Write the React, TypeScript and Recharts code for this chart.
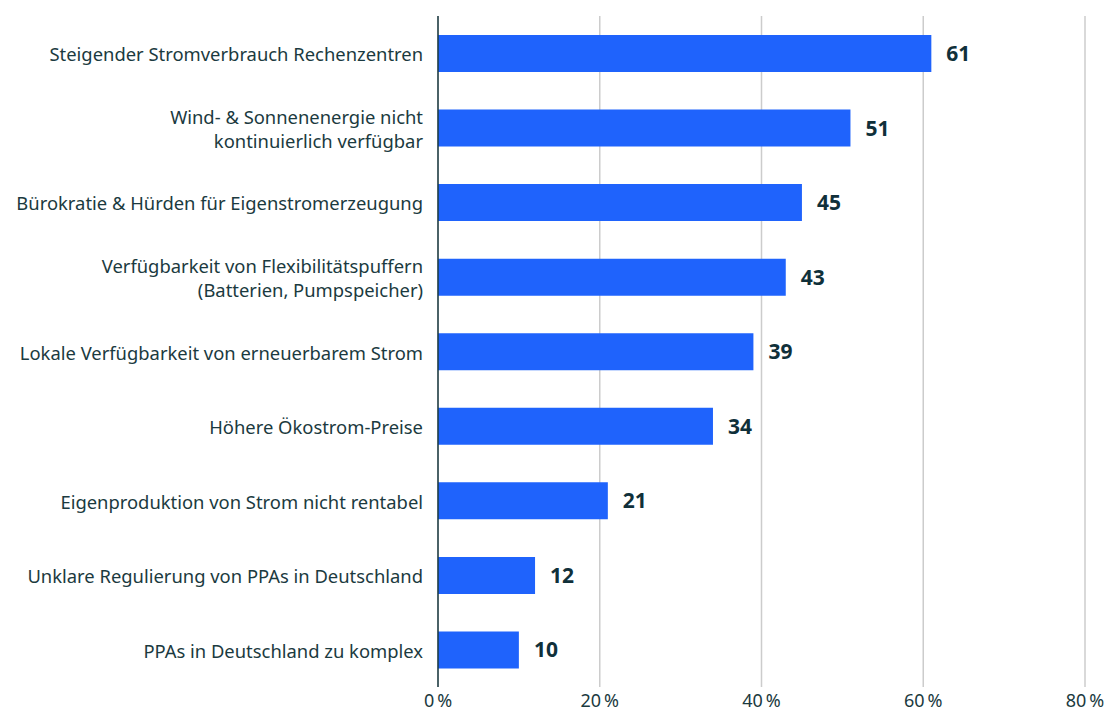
import React from 'react';
import {
  BarChart,
  Bar,
  XAxis,
  YAxis,
  CartesianGrid,
  LabelList,
} from 'recharts';

const categories = [
  'Steigender Stromverbrauch Rechenzentren',
  'Wind- & Sonnenenergie nicht\nkontinuierlich verfügbar',
  'Bürokratie & Hürden für Eigenstromerzeugung',
  'Verfügbarkeit von Flexibilitätspuffern\n(Batterien, Pumpspeicher)',
  'Lokale Verfügbarkeit von erneuerbarem Strom',
  'Höhere Ökostrom-Preise',
  'Eigenproduktion von Strom nicht rentabel',
  'Unklare Regulierung von PPAs in Deutschland',
  'PPAs in Deutschland zu komplex',
];
const values = [61, 51, 45, 43, 39, 34, 21, 12, 10];
const xTicks = [0, 20, 40, 60, 80];

const data = categories.map((name, i) => ({ name, value: values[i] }));

const TEXT = '#1b3a40';
const FONT = '"Noto Sans", sans-serif';

// multi-line category labels, split on \n
const CategoryTick = (props: any) => {
  const { x, y, payload } = props;
  const lines: string[] = String(payload.value).split('\n');
  const lh = 24;
  const start = -((lines.length - 1) * lh) / 2;
  return (
    <text
      x={x - 7}
      y={y}
      textAnchor="end"
      fill={TEXT}
      fontSize={18.4}
      fontFamily={FONT}
      dominantBaseline="central"
    >
      {lines.map((l, i) => (
        <tspan key={i} x={x - 7} dy={i === 0 ? start : lh}>
          {l}
        </tspan>
      ))}
    </text>
  );
};

const App: React.FC = () => {
  return (
    // pinned to the viewport so the page never gets scrollbars
    <div
      style={{
        position: 'fixed',
        top: 0,
        left: 0,
        width: 1108,
        height: 714,
        overflow: 'hidden',
        background: '#fff',
      }}
    >
      <BarChart
        width={1108}
        height={714}
        data={data}
        layout="vertical"
        margin={{ top: 16, right: 23, bottom: 0, left: 0 }}
      >
        <CartesianGrid horizontal={false} stroke="#cccccc" strokeWidth={1.5} />
        <XAxis
          type="number"
          dataKey="value"
          domain={[0, 80]}
          ticks={xTicks}
          axisLine={false}
          tickLine={false}
          tickSize={0}
          height={27}
          tickFormatter={(v: number) => `${v}\u202F%`}
          tick={{ fill: TEXT, fontSize: 18, fontFamily: FONT }}
          tickMargin={7}
        />
        <YAxis
          type="category"
          dataKey="name"
          width={438}
          axisLine={{ stroke: TEXT, strokeWidth: 1.5 }}
          tickLine={false}
          tick={<CategoryTick />}
          interval={0}
        />
        <Bar dataKey="value" fill="#1f63fc" barSize={37} isAnimationActive={false}>
          <LabelList
            dataKey="value"
            position="right"
            offset={15}
            fill="#10303a"
            fontSize={21}
            fontWeight={700}
            fontFamily={FONT}
          />
        </Bar>
      </BarChart>
    </div>
  );
};

export default App;
